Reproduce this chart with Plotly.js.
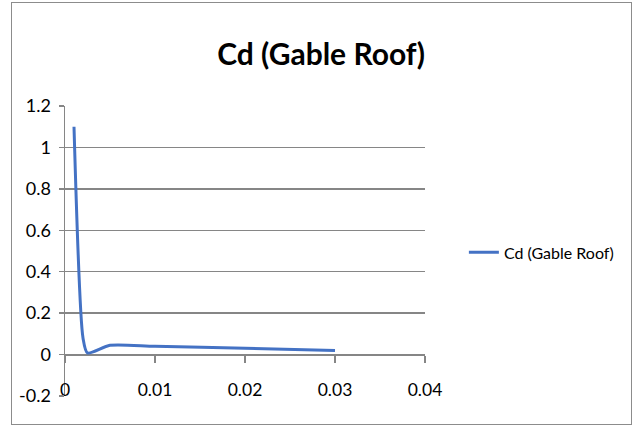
<!DOCTYPE html>
<html>
<head>
<meta charset="utf-8">
<script src="https://cdn.plot.ly/plotly-3.0.1.min.js"></script>
<style>
html,body{margin:0;padding:0;background:#fff;}
#wrap{position:relative;width:632px;height:425px;}
#chart{width:632px;height:425px;}
#frame{position:absolute;left:11px;top:2px;width:619px;height:421px;border:1px solid #8c8c8c;pointer-events:none;}
</style>
</head>
<body>
<div id="wrap"><div id="chart"></div><div id="frame"></div></div>
<script>
const seriesName = 'Cd (Gable Roof)';
const xValues = [0.001, 0.002, 0.0025, 0.005, 0.01, 0.02, 0.03];
const cdValues = [1.1, 0.08, 0.008, 0.045, 0.04, 0.03, 0.02];
const xTicks = [0, 0.01, 0.02, 0.03, 0.04];
const xTickText = ['0', '0.01', '0.02', '0.03', '0.04'];
const yTicks = [-0.2, 0, 0.2, 0.4, 0.6, 0.8, 1, 1.2];
const yTickText = ['-0.2', '0', '0.2', '0.4', '0.6', '0.8', '1', '1.2'];

const FONT = 'Lato, "Open Sans", sans-serif';
const yZeroFrac = (0 - (-0.2)) / (1.2 - (-0.2));

const traces = [
  {
    x: xValues, y: cdValues, name: seriesName, type: 'scatter', mode: 'lines',
    line: {color: '#4472C4', width: 3, shape: 'spline', smoothing: 0.7},
    xaxis: 'x', yaxis: 'y', hoverinfo: 'x+y'
  },
  {
    x: xValues, y: cdValues, type: 'scatter', mode: 'lines', showlegend: false,
    line: {width: 0}, opacity: 0, xaxis: 'x2', yaxis: 'y', hoverinfo: 'skip'
  }
];

const layout = {
  width: 632, height: 425,
  margin: {l: 65, r: 207, t: 106, b: 29, autoexpand: false},
  paper_bgcolor: '#ffffff', plot_bgcolor: '#ffffff',
  font: {family: FONT, color: '#000', size: 17},
  title: {
    text: '<b>Cd (Gable Roof)</b>',
    font: {family: FONT, size: 30, color: '#000'},
    x: 0.508, xanchor: 'center', xref: 'container',
    y: 0.872, yanchor: 'middle', yref: 'container'
  },
  showlegend: true,
  legend: {
    x: 1.108, xanchor: 'left', y: 0.495, yanchor: 'middle',
    font: {family: FONT, size: 16, color: '#000'},
    bgcolor: 'rgba(0,0,0,0)', borderwidth: 0
  },
  xaxis: {
    range: [0, 0.04], tickvals: xTicks, ticktext: xTickText,
    showgrid: false, zeroline: false, showline: false, ticks: '',
    ticklabelstandoff: -19, tickfont: {family: FONT, size: 17.5, color: '#000'},
    fixedrange: true
  },
  xaxis2: {
    range: [0, 0.04], overlaying: 'x', anchor: 'free', position: yZeroFrac,
    tickvals: xTicks, showticklabels: false, showgrid: false, zeroline: false,
    showline: true, linecolor: '#868686', linewidth: 1.5,
    ticks: 'outside', ticklen: 7, tickcolor: '#868686', tickwidth: 1.5
  },
  yaxis: {
    range: [-0.2, 1.2], tickvals: yTicks, ticktext: yTickText,
    showgrid: true, gridcolor: '#868686', gridwidth: 1.5,
    zeroline: false, showline: true, linecolor: '#868686', linewidth: 1.5,
    ticks: 'outside', ticklen: 5, tickcolor: '#868686', tickwidth: 1.5,
    tickfont: {family: FONT, size: 18, color: '#000'}, ticklabelstandoff: 4,
    fixedrange: true
  }
};

Plotly.newPlot('chart', traces, layout, {displayModeBar: false, staticPlot: true});
</script>
</body>
</html>
